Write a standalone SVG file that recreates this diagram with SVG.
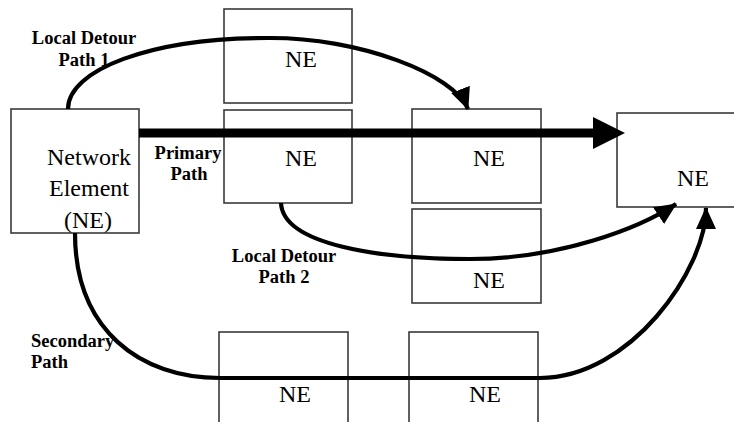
<svg xmlns="http://www.w3.org/2000/svg" width="734" height="422" viewBox="0 0 734 422">
  <style>
    .box { fill: #ffffff; stroke: #3a3a3a; stroke-width: 1.6; }
    .ne { font-family: 'Liberation Serif', 'Times New Roman', serif; font-size: 24px; fill: #000; }
    .lbl { font-family: 'Liberation Serif', 'Times New Roman', serif; font-size: 18.5px; font-weight: bold; fill: #000; }
    .path { fill: none; stroke: #000; stroke-width: 4.2; }
    .primary { fill: none; stroke: #000; stroke-width: 9; }
  </style>
  <defs>
    <marker id="head" markerUnits="userSpaceOnUse" markerWidth="22" markerHeight="20" viewBox="0 0 22 20" refX="21" refY="10" orient="auto">
      <path d="M0,0 L22,10 L0,20 z" fill="#000"/>
    </marker>
  </defs>
  <rect width="734" height="422" fill="#ffffff"/>

  <!-- network elements -->
  <g id="ne-source">
    <rect class="box" x="11" y="109" width="128" height="124"/>
    <text class="ne" x="89" y="165" text-anchor="middle">Network</text>
    <text class="ne" x="89" y="196" text-anchor="middle">Element</text>
    <text class="ne" x="88" y="228" text-anchor="middle">(NE)</text>
  </g>
  <g id="ne-upper">
    <rect class="box" x="224" y="9" width="128" height="94"/>
    <text class="ne" x="285" y="67">NE</text>
  </g>
  <g id="ne-primary-1">
    <rect class="box" x="224" y="110" width="128" height="93"/>
    <text class="ne" x="285" y="166">NE</text>
  </g>
  <g id="ne-primary-2">
    <rect class="box" x="412" y="109" width="129" height="94"/>
    <text class="ne" x="473" y="166">NE</text>
  </g>
  <g id="ne-detour-2">
    <rect class="box" x="412" y="209" width="129" height="94"/>
    <text class="ne" x="473" y="288">NE</text>
  </g>
  <g id="ne-destination">
    <rect class="box" x="617" y="113" width="130" height="94"/>
    <text class="ne" x="677" y="186">NE</text>
  </g>
  <g id="ne-secondary-1">
    <rect class="box" x="219" y="332" width="129" height="100"/>
    <text class="ne" x="279" y="402">NE</text>
  </g>
  <g id="ne-secondary-2">
    <rect class="box" x="409" y="332" width="129" height="100"/>
    <text class="ne" x="469" y="402">NE</text>
  </g>

  <!-- connectors -->
  <g id="connectors">
    <line class="primary" x1="139" y1="133" x2="600" y2="133"/>
    <polygon points="593,117 625,133 593,149" fill="#000"/>
    <path class="path" d="M68,109 C68,70 150,38 267,38 C360,37 455,75 468,109" marker-end="url(#head)"/>
    <path class="path" d="M281,203 C283,245 380,259 470,259 C560,259 640,228 676,204" marker-end="url(#head)"/>
    <path class="path" d="M75,233 C75,330 140,378 220,378 L540,378 C630,378 706,270 706,208" marker-end="url(#head)"/>
  </g>

  <!-- path labels -->
  <g id="labels">
    <text class="lbl" x="84" y="44" text-anchor="middle">Local Detour</text>
    <text class="lbl" x="84" y="66" text-anchor="middle">Path 1</text>
    <text class="lbl" x="188" y="159" text-anchor="middle">Primary</text>
    <text class="lbl" x="189" y="180" text-anchor="middle">Path</text>
    <text class="lbl" x="284" y="262" text-anchor="middle">Local Detour</text>
    <text class="lbl" x="284" y="283" text-anchor="middle">Path 2</text>
    <text class="lbl" x="31" y="347">Secondary</text>
    <text class="lbl" x="31" y="368">Path</text>
  </g>
</svg>
